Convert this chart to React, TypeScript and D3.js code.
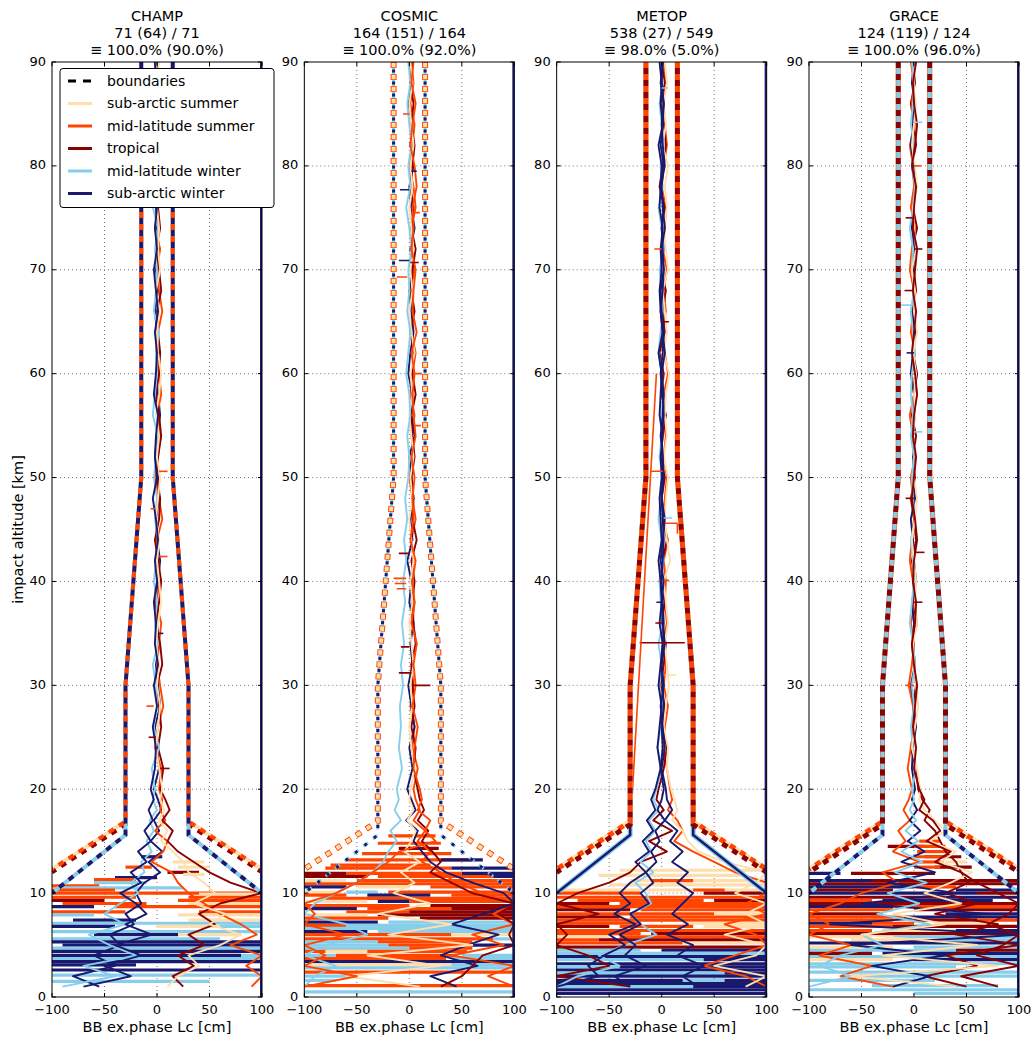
import React from 'react';
import * as d3 from 'd3';

// climate classes and their colours
const classNames = ['sub-arctic summer', 'mid-latitude summer', 'tropical', 'mid-latitude winter', 'sub-arctic winter'];
const classColors = ['#ffdead', '#ff4500', '#8b0000', '#87ceeb', '#191970'];

const missions = ['CHAMP', 'COSMIC', 'METOP', 'GRACE'];
const countLabels = ['71 (64) / 71', '164 (151) / 164', '538 (27) / 549', '124 (119) / 124'];
const shareLabels = ['≡ 100.0% (90.0%)', '≡ 100.0% (92.0%)', '≡ 98.0% (5.0%)', '≡ 100.0% (96.0%)'];

const xTicks = [-100, -50, 0, 50, 100];
const yTicks = [0, 10, 20, 30, 40, 50, 60, 70, 80, 90];

// altitude levels [km] at which the profiles below are sampled
const profileAlts = [
  90, 88, 86, 84, 82, 80, 78, 76, 74, 72, 70, 68, 66, 64, 62, 60, 58, 56,
  54, 52, 50, 48, 46, 44, 42, 40, 38, 36, 34, 32, 30, 28, 26, 24, 22, 20,
  19, 18, 17, 16, 15, 14, 13, 12, 11, 10, 9, 8, 7, 6, 5, 4, 3, 2, 1,
];

// boundaries, right half [Lc cm, altitude km]; left half is mirrored
const summerBoundary = [[15, 90], [15, 50], [30, 30], [30, 16.9], [100, 12.3]];
const tropicalBoundary = [[15, 90], [15, 50], [30, 30], [30, 16.6], [100, 12.0]];
const winterBoundary = [[15, 90], [15, 50], [30, 30], [30, 15.6], [100, 10.0]];
const boundaryOf = [summerBoundary, summerBoundary, tropicalBoundary, winterBoundary, winterBoundary];

// profiles: [class, Lc values at profileAlts]
const champProfiles: [number, number[]][] = [
  [4, [1, -1, 2, 0, -2, 1, 3, -1, 0, 2, -1, 1, -2, 0, 2, -1, 1, 3, 0, -2, 1, 2, -1, 0, 3, 1, -2, 0, 2, -1, 1, 3, -2, 0, 2, -3,
    1, 4, -3, 2, -6, 5, -8, 3, -12, -20, -15, -30, -22, -45, -35, -60, -40, -80, -55]],
  [1, [-2, 1, 3, 0, 2, -1, 4, 1, -2, 3, 0, 2, 5, 1, -1, 2, 4, 0, 3, 1, -2, 2, 5, 0, 1, 3, -1, 4, 2, 0, 3, 6, 1, -2, 4, 2,
    5, 3, 8, -2, 10, 6, -5, 14, 20, 30, 45, 60, 80, 95, 70, 100, 85, 100, 90]],
  [2, [0, 2, -1, 1, 3, 2, 0, 1, 3, -1, 2, 4, 0, 1, 3, 2, -1, 2, 4, 1, 0, 3, 2, -2, 1, 4, 2, -1, 3, 5, 0, 2, 4, 1, 6, 3,
    8, 12, 5, 15, 10, 20, 35, 50, 70, 100, 60, 40, 55, 30, 45, 20, 35, 15, 25]],
  [3, [-1, 0, -3, 1, -1, -2, 0, -4, 1, -2, 0, -1, -3, 2, -1, 0, -2, -4, 1, -1, -3, 0, -2, 1, -1, -3, 0, -2, 1, -4, -1, 0, -3, 2, -5, -2,
    -4, 0, -7, -3, -10, -5, -15, -12, -25, -18, -35, -50, -30, -65, -45, -20, -70, -40, -90]],
  [0, [2, 0, 1, 3, -1, 2, 1, 0, 2, 1, 3, -1, 2, 0, 1, 4, 2, -1, 2, 0, 3, 1, -1, 2, 0, 2, 4, 1, -1, 2, 0, 3, 1, -1, 2, 5,
    3, 7, 2, 10, 4, 15, 25, 30, 45, 55, 35, 65, 50, 80, 60, 30, 40, 20, 10]],
  [4, [-2, -1, 0, -3, 1, -2, -1, 0, -2, 0, -3, -1, 1, -2, 0, -1, -3, 1, -1, -2, 0, -4, -1, 1, -2, 0, -3, -1, -2, 1, -3, 0, -4, -1, -2, -6,
    -3, -8, -4, -12, -6, -18, -10, -25, -15, -35, -20, -10, -30, -5, -40, -15, -50, -25, -70]],
];

const cosmicProfiles: [number, number[]][] = [
  [1, [2, 4, 1, 5, 3, 0, 4, 6, 2, 3, 5, 1, 4, 2, 6, 3, 1, 5, 2, 4, 0, 3, 6, 2, 4, 1, 5, 3, 7, 2, 4, 1, 5, 3, 8, 4,
    6, 10, 4, 15, 8, 20, 12, 30, 45, 70, 100, 80, 100, 60, 90, 40, 100, 75, 100]],
  [4, [0, 2, -1, 3, 1, 4, 0, 2, 5, 1, 3, 0, 2, 4, 1, -1, 3, 2, 5, 0, 2, 4, 1, 3, -2, 2, 0, 4, 1, 3, -1, 2, 5, 0, 3, -2,
    2, 6, -3, 8, 4, 12, 20, 35, 60, 90, 100, 70, 40, 85, 55, 30, 65, 20, 45]],
  [2, [3, 1, 4, 2, 5, 3, 1, 4, 2, 6, 3, 2, 5, 1, 4, 3, 6, 2, 3, 5, 2, 4, 3, 7, 2, 5, 3, 4, 6, 2, 3, 5, 2, 6, 4, 8,
    10, 14, 8, 18, 12, 22, 30, 20, 40, 60, 100, 85, 100, 95, 100, 70, 60, 50, 30]],
  [0, [1, 3, 0, 2, 4, 1, 3, 0, 2, 4, 1, 3, 0, 2, 5, 1, 3, 0, 2, 4, 1, 3, 0, 2, 4, 1, 3, 0, 2, 4, 1, 3, 0, 2, 5, 1,
    0, 4, -2, 6, 2, -5, 10, -8, 5, -15, 20, -30, 40, -20, 60, -40, 30, -60, 10]],
  [3, [-1, 1, -2, 0, 2, -1, 1, -3, 0, 2, -1, 0, -2, 1, -1, -3, 0, 1, -2, 0, -1, -4, -2, -5, -3, -6, -4, -7, -5, -8, -6, -9, -8, -10, -7, -12,
    -10, -14, -8, -18, -12, -20, -25, -35, -50, -70, -90, -100, -60, -40, -80, -100, -70, -90, -100]],
  [1, [4, 2, 6, 3, 1, 5, 7, 3, 4, 2, 6, 4, 3, 7, 2, 5, 3, 4, 6, 2, 5, 3, 4, 1, 6, 3, 5, 2, 7, 4, 6, 3, 8, 5, 4, 10,
    12, 8, 20, 15, 25, -10, -20, -35, -50, -70, -100, -90, -100, -60, -100, -80, -100, -50, -100]],
];

const metopProfiles: [number, number[]][] = [
  [1, [2, 4, 1, 3, 5, 2, 0, 4, 3, 1, 5, 2, 4, 0, 3, 6, 2, 1, 4, 2, 5, 3, 1, 6, 2, 4, 3, 5, 1, 4, 2, 6, 3, 1, 5, 8,
    10, 6, 15, 20, 12, 30, 50, 70, 100, 100, 80, 100, 60, 90, 100, 70, 40, 80, 100]],
  [2, [0, 3, -1, 2, 4, 1, -2, 3, 0, 2, -1, 4, 1, 3, -2, 2, 0, 4, 1, -1, 3, 0, 2, 5, 1, -2, 3, 0, 4, 2, -1, 3, 1, 5, 2, -3,
    -5, 2, -8, 10, -12, 5, -20, -30, -50, -80, -100, -60, -100, -90, -100, -70, -50, -100, -30]],
  [0, [3, 5, 2, 4, 1, 6, 3, 5, 2, 4, 6, 1, 3, 5, 2, 7, 4, 3, 5, 2, 6, 4, 3, 5, 8, 2, 4, 6, 3, 5, 7, 4, 2, 6, 5, 9,
    12, 15, 10, 20, 25, 35, 60, 100, 90, 70, 100, 80, 100, 60, 100, 90, 50, 100, 80]],
  [3, [-1, 1, -2, 0, 2, -1, 1, -3, 0, 2, -2, 0, 1, -1, -3, 0, 2, -1, 0, -2, 1, -1, -3, 0, 2, -2, -1, 1, -3, 0, -2, 1, -1, -4, 0, -5,
    -8, -3, -12, -6, -15, -10, -20, -8, -25, -15, -10, -30, -20, -5, -35, -60, -40, -80, -100]],
  [4, [1, -1, 2, 0, 1, 3, -1, 2, 0, 1, 2, -1, 0, 2, 1, -1, 1, 2, 0, 1, 1, 0, 1, 2, 1, 0, 1, 2, 1, 0, 1, 2, 0, 1, -1, 2,
    0, -4, 3, -6, -2, -10, -5, -15, -8, -20, -12, -30, -20, -40, -25, -35, -15, -45, -30]],
  [4, [-2, 0, -1, 1, -3, 0, -1, -2, 1, -1, 0, -2, -1, 1, -3, 0, -1, -2, 1, -1, 0, -2, -1, 0, -3, -1, 0, -2, 1, -1, -3, 0, -2, -4, -1, -6,
    -10, -6, -14, -8, -18, -12, -25, -15, -30, -40, -30, -45, -25, -50, -35, -55, -70, -60, -100]],
  [4, [1, 0, 2, 1, -1, 2, 0, 1, 3, 0, 2, 1, -1, 1, 3, 0, 2, 1, -1, 1, 2, 0, 3, 1, -1, 2, 0, 1, 3, 0, 2, -1, 1, 3, 0, 4,
    5, 10, 3, 15, 8, 20, 10, 25, 15, 30, 20, 10, 25, 5, 30, 15, 40, 20, 35]],
];

const graceProfiles: [number, number[]][] = [
  [2, [-1, 1, -3, 0, 2, -2, 1, -1, 3, -2, 0, 2, -3, 1, -1, 3, 0, -2, 2, -1, 1, -3, 0, 2, -2, 1, -1, 3, -2, 0, 2, -1, 1, -3, 2, 4,
    8, 15, 10, 20, 25, 30, 40, 45, 52, 30, 60, 20, 80, 40, 100, 30, 60, 10, 50]],
  [1, [-3, 0, -2, 1, -4, -1, 0, -3, 1, -2, -4, 0, -1, -3, 1, -2, 0, -4, -1, 1, -3, -1, 0, -2, -4, -1, 1, -3, 0, -2, -5, -1, 0, -3, -6, -2,
    -5, -10, -4, -15, -8, -20, 5, -30, -15, -50, -70, -100, -80, -100, -60, -90, -40, -70, -20]],
  [4, [0, -2, 1, -1, -3, 0, 2, -1, -2, 1, -1, 0, -2, 2, -1, -3, 0, 1, -2, 0, -1, 1, -3, -1, 0, 2, -2, 0, -1, 1, -3, 0, 2, -1, -2, 1,
    -2, 3, -4, 6, -6, 10, -12, 20, -25, 40, -50, 70, -80, 100, -60, 30, -40, 15, -20]],
  [3, [-2, 0, -1, -3, 0, -2, 1, -1, -4, -1, -2, 0, -3, -1, 1, -2, -3, -1, -3, 0, -2, -1, 1, -3, -1, 0, -2, -4, -1, 1, -2, 0, -3, -1, 2, -2,
    0, -4, 2, -8, 4, -12, 8, -18, 12, -25, 5, -35, 15, -50, -30, -70, -90, -60, -100]],
  [0, [1, -1, 2, 0, -2, 1, 3, -1, 0, 2, -2, 1, 0, 3, -1, 2, 0, 1, -1, 2, 0, 3, 1, -2, 0, 2, 1, 3, -1, 0, 2, 4, 1, -2, 3, 6,
    5, 10, 20, 30, 15, 40, 25, 55, 35, 10, 45, -20, 30, -50, 60, -30, 80, -60, 40]],
  [2, [2, -1, 0, 3, 1, -2, 2, 0, -1, 3, 1, -1, 2, 0, -2, 1, 3, 0, -1, 2, 0, -2, 1, 3, 0, -1, 2, 1, -2, 0, 3, 1, -1, 2, 0, 5,
    10, 5, 18, 25, 12, 35, 20, 45, 60, 80, 100, 90, 70, 100, 85, 60, 100, 45, 80]],
];

// short excursions: [class, Lc0, alt0, Lc1, alt1]
const champSegments = [
  [1, 2, 50.6, 10, 50.6], [1, 2, 42.4, 10, 42.4], [1, -2, 47, -6, 47], [3, -2, 60, -6, 60],
  [4, 1, 35, 6, 35], [2, -1, 25, -8, 25], [2, 3, 22, 12, 22], [1, -3, 28, -10, 28],
];
const cosmicSegments = [
  [4, -9, 77.7, 0, 77.7], [1, 2, 75.5, 10, 75.5], [4, 2, 79.5, 7, 79.5], [2, 1, 70.7, 9, 70.7],
  [1, -12, 69.3, -2, 69.3], [4, -10, 70.9, 0, 70.9], [1, -15, 40.3, -3, 40.3], [1, -14, 39.8, -3, 39.8],
  [1, -12, 39.3, -3, 39.3], [2, 3, 30, 20, 30], [2, -10, 42.7, 0, 42.7], [2, -8, 33.7, 0, 33.7],
  [2, -10, 31.2, 2, 31.2], [1, 4, 60, 12, 60], [1, -6, 85, 0, 85], [1, 5, 55, 11, 55],
];
const metopSegments = [
  [1, -10, 50.6, 1, 50.6], [3, 2, 46.1, 10, 46.1], [1, 3, 45.6, 15, 45.6], [1, 15, 45.6, 15, 44.6],
  [2, -21, 34.1, 22, 34.1], [0, 3, 31, 14, 31], [1, 2, 40.1, 7, 40.1], [1, -5, 60, -28, 19.5],
  [2, -6, 36, 0, 36], [4, -5, 38, 0, 38], [2, 0, 65, 7, 65], [1, -7, 72, 0, 72], [3, 0, 87.5, 6, 87.5],
];
const graceSegments = [
  [3, -14, 66.6, -1, 66.6], [3, 0, 84.2, 8, 84.2], [2, -8, 75, 0, 75], [2, 0, 72, 8, 72],
  [2, -9, 68, 0, 68], [1, 0, 80, 7, 80], [4, -7, 62, 0, 62], [3, 0, 54.4, 8, 54.4],
  [2, 0, 42.8, 10, 42.8], [2, -8, 48, 0, 48], [2, 0, 38, 8, 38], [1, -8, 30, 0, 30],
];

// lower-troposphere streaks: [class, altitude, Lc from, Lc to]
const champBands = [
  [0, 13.0, 15, 45], [0, 12.5, 20, 50], [2, 12.0, 10, 40], [0, 11.8, 25, 45], [4, 13.5, -15, 5],
  [1, 12.5, -30, -5], [4, 11.5, -40, 0], [1, 11.3, -60, -20], [3, 11.0, -60, -10],
  [1, 10.7, -100, -55], [3, 10.5, -90, 25], [1, 10.3, -100, -40], [1, 10.0, -100, 100], [0, 9.9, 40, 100],
  [1, 9.6, -100, -20], [1, 9.6, 30, 100], [2, 9.3, -100, -50], [1, 9.3, 20, 100], [1, 9.0, -90, -10],
  [0, 9.0, 30, 100], [4, 8.7, -100, -60], [1, 8.7, -40, 100], [1, 8.2, -100, -30], [1, 8.2, 40, 100],
  [0, 7.9, 20, 100], [3, 7.9, -100, -60], [4, 7.4, -80, -20], [0, 7.4, 30, 100], [3, 7.1, -100, 100],
  [4, 6.8, -100, -40], [0, 6.8, 0, 60], [3, 6.8, 60, 100], [3, 6.3, -100, 100], [4, 6.0, -60, 20],
  [0, 6.0, 20, 80], [3, 5.6, -100, 60], [4, 5.3, -100, 100], [4, 5.0, -90, 100], [3, 4.7, -100, 100],
  [4, 4.4, -100, 100], [4, 4.0, -100, 80], [3, 4.0, 80, 100], [3, 3.7, -100, 100], [4, 3.4, -100, 100],
  [4, 3.1, -100, -20], [4, 2.6, -100, 100], [3, 2.1, -100, 100], [3, 1.5, -100, 50],
];
const cosmicBands = [
  [1, 15.5, -20, 25], [1, 14.8, -30, 30], [2, 14.3, -10, 28], [1, 13.8, -45, 40], [1, 13.2, -60, 60],
  [4, 13.2, 30, 70], [1, 12.7, -75, 20], [4, 12.4, 40, 100], [1, 12.4, -80, 40], [4, 11.9, 50, 100],
  [1, 11.9, -60, 50], [2, 11.9, -100, -60], [2, 11.6, -100, -40], [1, 11.6, -30, 80], [4, 11.6, 80, 100],
  [0, 11.2, -100, -60], [1, 11.2, -50, 100], [1, 10.9, -100, 100], [4, 10.6, -100, -60], [0, 10.6, -50, 0],
  [1, 10.6, 20, 100], [0, 10.1, -100, -70], [3, 10.1, -60, -30], [1, 10.1, -20, 100], [1, 9.8, -100, -60],
  [4, 9.8, -40, 20], [1, 9.8, 40, 100], [1, 9.5, -80, 100], [0, 9.2, -100, -40], [4, 9.2, -30, 0],
  [1, 9.2, 0, 100], [1, 8.8, -100, 0], [2, 8.8, 20, 100], [4, 8.5, -100, -50], [1, 8.5, -40, 40],
  [2, 8.5, 40, 100], [1, 8.2, -60, 0], [2, 8.2, 0, 100], [0, 7.9, -100, -40], [2, 7.9, -30, 100],
  [1, 7.6, -100, -20], [2, 7.6, 10, 100], [4, 7.2, -100, -30], [3, 7.2, -20, 100], [1, 6.9, -100, -60],
  [3, 6.9, -60, 100], [3, 6.6, -100, 100], [4, 6.3, -100, -40], [3, 6.3, -30, 100], [1, 6.0, -100, 40],
  [0, 6.0, 40, 100], [1, 5.6, -100, 80], [3, 5.6, 80, 100], [3, 5.3, -100, -30], [1, 5.3, -30, 60],
  [3, 5.0, -100, -20], [1, 5.0, -20, 60], [4, 5.0, 60, 100], [3, 4.7, -100, 0], [1, 4.7, 0, 60],
  [1, 4.4, -100, 55], [0, 4.4, -80, -40], [3, 4.0, -100, -70], [1, 4.0, -70, 45], [3, 4.0, 50, 100],
  [1, 3.7, -100, 35], [3, 3.7, 40, 100], [4, 3.4, -100, 100], [0, 3.1, -100, 40], [3, 3.1, 40, 100],
  [3, 2.8, -100, 100], [1, 2.4, -100, 100], [3, 2.0, -100, -55], [3, 1.6, -100, -70], [1, 1.1, -100, 100],
  [3, 0.5, -100, 100],
];
const metopBands = [
  [0, 12.2, -40, 100], [0, 11.7, -60, 80], [0, 11.2, -30, 100], [1, 11.2, -10, 30], [0, 10.8, -50, 100],
  [0, 10.3, -100, 100], [1, 10.3, 30, 60], [1, 10.0, -100, -20], [2, 10.0, 40, 100], [1, 9.6, -100, 100],
  [1, 9.3, -80, 40], [2, 9.3, 50, 100], [2, 9.0, -100, -50], [1, 9.0, -40, 100], [1, 8.7, -100, 100],
  [2, 8.4, -100, -30], [1, 8.4, -20, 100], [1, 8.0, -100, 50], [0, 8.0, 50, 100], [2, 7.7, -100, -40],
  [1, 7.7, -30, 100], [1, 7.4, -100, 100], [1, 7.1, -100, -20], [0, 7.1, 20, 100], [2, 6.8, -100, -50],
  [1, 6.8, -40, 30], [0, 6.8, 40, 100], [1, 6.4, -100, 100], [1, 6.1, -100, -20], [2, 6.1, -10, 100],
  [0, 5.8, -100, -50], [1, 5.8, -40, 100], [1, 5.5, -100, -60], [2, 5.5, -60, 100], [1, 5.2, -100, 20],
  [0, 5.2, 20, 100], [2, 4.8, -100, 100], [3, 4.5, -100, -20], [4, 4.5, 0, 100], [3, 4.2, -100, 100],
  [4, 3.9, -100, 100], [3, 3.6, -100, 40], [4, 3.6, 40, 100], [4, 3.2, -100, 100], [3, 2.9, -100, -40],
  [4, 2.9, -40, 100], [4, 2.6, -100, 100], [3, 2.3, -100, 60], [4, 2.3, 60, 100], [4, 2.0, -100, 100],
  [4, 1.6, -100, 100], [3, 1.6, 20, 60], [4, 1.3, -100, 100], [3, 1.0, -100, 30], [4, 1.0, 30, 100],
  [4, 0.7, -100, 100], [4, 0.35, -100, 100],
];
const graceBands = [
  [1, 15.0, 5, 25], [2, 14.5, -25, 10], [1, 14.5, 0, 30], [1, 14.0, 3, 33], [2, 13.5, 10, 45],
  [1, 13.5, 0, 30], [1, 13.0, 5, 28], [0, 13.0, 30, 50], [2, 12.5, 20, 55], [1, 12.5, 0, 25],
  [2, 11.9, -60, 20], [4, 11.9, -100, -70], [4, 11.2, -100, -40], [2, 11.2, -40, 100], [2, 10.9, -100, 100],
  [4, 10.6, -100, 0], [1, 10.6, 0, 40], [2, 10.3, -100, -20], [4, 10.3, 40, 100], [4, 10.0, -100, 60],
  [2, 10.0, 60, 100], [2, 9.6, -100, 30], [4, 9.6, 30, 100], [1, 9.3, -100, -40], [4, 9.3, -30, 75],
  [2, 9.0, -100, 100], [4, 8.7, -100, -20], [1, 8.7, -20, 100], [1, 8.4, -100, -20], [2, 8.4, 0, 100],
  [2, 8.0, -100, -30], [4, 8.0, 30, 100], [1, 7.7, -100, -10], [4, 7.7, -10, 100], [1, 7.4, -100, -20],
  [2, 7.4, 0, 60], [1, 7.4, 60, 100], [4, 7.1, -100, -40], [1, 7.1, -40, 0], [0, 7.1, 20, 80],
  [1, 6.8, -100, -20], [2, 6.8, -20, 100], [1, 6.4, -100, -40], [0, 6.4, -30, 40], [4, 6.4, 40, 100],
  [2, 6.1, -100, 100], [0, 5.8, -100, -40], [3, 5.8, -20, 100], [0, 5.5, -60, 30], [3, 5.5, 30, 100],
  [4, 5.2, -100, 100], [0, 4.8, -100, -20], [3, 4.8, 0, 100], [3, 4.5, -100, 40], [2, 4.5, 40, 100],
  [2, 4.2, -100, -40], [4, 4.2, -30, 100], [3, 3.9, -100, 100], [0, 3.6, -100, -20], [4, 3.6, 0, 100],
  [3, 3.2, -100, 100], [3, 2.9, -100, 40], [3, 2.4, -100, 100], [3, 2.0, -60, 100], [3, 1.6, -100, 20],
  [3, 1.1, -40, 80], [3, 0.7, -100, 100], [3, 0.35, 0, 100],
];

// an off-scale sub-arctic winter profile pinned at the right edge
const clippedClass = 4;
const clippedLc = 100;
const clippedAlts = [0, 90];

const panelProfiles = [champProfiles, cosmicProfiles, metopProfiles, graceProfiles];
const panelSegments = [champSegments, cosmicSegments, metopSegments, graceSegments];
const panelBands = [champBands, cosmicBands, metopBands, graceBands];

// boundary drawing order per panel: [class, width, dasharray, dashoffset]
const boundaryStyles: [number, number, string, number][][] = [
  [[0, 4, '6,6', 0], [2, 4, '6,6', 6], [3, 4, '6,6', 6], [1, 4, '6,6', 6], [4, 4, '6,6', 0]],
  [[3, 3, '6,6', 6], [1, 6, '6,6', 0], [0, 4, '4.5,7.5', 11.25], [4, 3, '3,9', 4.5]],
  [[3, 5, 'none', 0], [4, 2.5, 'none', 0], [0, 5, 'none', 0], [1, 5, '6,6', 0], [2, 5, '6,6', 6]],
  [[0, 5, '6,6', 0], [1, 5, '6,6', 6], [4, 4, '6,6', 0], [3, 4, '6,6', 6], [2, 5, '6,6', 0]],
];

const W = 1033;
const H = 1041;
const LEFT0 = 52;
const STEP = 252.33;
const PW = 210;
const TOP = 62;
const PH = 935;
const FONT = 'DejaVu Sans';

function Panel({ i }: { i: number }) {
  const x = d3.scaleLinear().domain([-100, 100]).range([0, PW]);
  const y = d3.scaleLinear().domain([0, 90]).range([PH, 0]);
  const line = d3.line<number[]>().x(d => x(d[0])).y(d => y(d[1]));
  const clipId = `clip-${i}`;
  const left = LEFT0 + STEP * i;

  return (
    <g transform={`translate(${left},${TOP})`}>
      <defs>
        <clipPath id={clipId}>
          <rect x={0} y={0} width={PW} height={PH} />
        </clipPath>
      </defs>

      {/* grid */}
      {xTicks.slice(1, -1).map(t => (
        <line key={'gx' + t} x1={x(t)} x2={x(t)} y1={0} y2={PH} stroke="#777" strokeWidth={1} strokeDasharray="1,3" />
      ))}
      {yTicks.slice(1, -1).map(t => (
        <line key={'gy' + t} x1={0} x2={PW} y1={y(t)} y2={y(t)} stroke="#777" strokeWidth={1} strokeDasharray="1,3" />
      ))}

      <g clipPath={`url(#${clipId})`}>
        {panelBands[i].map((b, k) => (
          <line key={'b' + k} x1={x(b[2])} x2={x(b[3])} y1={y(b[1])} y2={y(b[1])}
            stroke={classColors[b[0]]} strokeWidth={3.2} />
        ))}
        {panelProfiles[i].map(([cls, xs], k) => {
          const pts = profileAlts.map((a, j) => [xs[j], a]).filter(p => p[0] !== undefined);
          return <path key={'p' + k} d={line(pts) || ''} fill="none" stroke={classColors[cls]}
            strokeWidth={1.9} strokeLinejoin="round" />;
        })}
        {panelSegments[i].map((s, k) => (
          <line key={'s' + k} x1={x(s[1])} y1={y(s[2])} x2={x(s[3])} y2={y(s[4])}
            stroke={classColors[s[0]]} strokeWidth={1.6} />
        ))}
        {boundaryStyles[i].map(([cls, w, dash, off], k) => {
          const right = boundaryOf[cls];
          const leftSide = right.map(([bx, a]) => [-bx, a]);
          return (
            <g key={'bd' + k} fill="none" stroke={classColors[cls]} strokeWidth={w}
              strokeDasharray={dash} strokeDashoffset={off}>
              <path d={line(right) || ''} />
              <path d={line(leftSide) || ''} />
            </g>
          );
        })}
        <line x1={x(clippedLc)} x2={x(clippedLc)} y1={y(clippedAlts[0])} y2={y(clippedAlts[1])}
          stroke={classColors[clippedClass]} strokeWidth={4} />
      </g>

      {/* frame and ticks */}
      <rect x={0} y={0} width={PW} height={PH} fill="none" stroke="#000" strokeWidth={1} />
      {xTicks.map(t => (
        <g key={'tx' + t}>
          <line x1={x(t)} x2={x(t)} y1={PH} y2={PH - 4} stroke="#000" />
          <line x1={x(t)} x2={x(t)} y1={0} y2={4} stroke="#000" />
          <text x={x(t)} y={PH + 17} textAnchor="middle" fontFamily={FONT} fontSize={13}>
            {t < 0 ? '\u2212' + Math.abs(t) : String(t)}
          </text>
        </g>
      ))}
      {yTicks.map(t => (
        <g key={'ty' + t}>
          <line x1={0} x2={4} y1={y(t)} y2={y(t)} stroke="#000" />
          <line x1={PW} x2={PW - 4} y1={y(t)} y2={y(t)} stroke="#000" />
          <text x={-6} y={y(t) - 1} dy="0.35em" textAnchor="end" fontFamily={FONT} fontSize={13}>{t}</text>
        </g>
      ))}

      <text x={PW / 2} y={PH + 35} textAnchor="middle" fontFamily={FONT} fontSize={14.5}>BB ex.phase Lc [cm]</text>
      <text x={PW / 2} y={-41.5} textAnchor="middle" fontFamily={FONT} fontSize={14.5}>{missions[i]}</text>
      <text x={PW / 2} y={-24.5} textAnchor="middle" fontFamily={FONT} fontSize={14.5}>{countLabels[i]}</text>
      <text x={PW / 2} y={-7.5} textAnchor="middle" fontFamily={FONT} fontSize={14.5}>{shareLabels[i]}</text>

      {i === 0 && (
        <text transform={`translate(-29,${PH / 2}) rotate(-90)`} textAnchor="middle" fontFamily={FONT} fontSize={14.5}>
          impact altitude [km]
        </text>
      )}
      {i === 0 && <Legend />}
    </g>
  );
}

function Legend() {
  const rowY = (k: number) => 19 + k * 22.5;
  return (
    <g>
      <rect x={8} y={6.5} width={214} height={139} rx={3} fill="#fff" stroke="#000" strokeWidth={1} />
      <line x1={16} x2={40} y1={rowY(0)} y2={rowY(0)} stroke="#000" strokeWidth={3} strokeDasharray="8,7" />
      <text x={55} y={rowY(0)} dy="0.35em" fontFamily={FONT} fontSize={14}>boundaries</text>
      {classNames.map((name, k) => (
        <g key={name}>
          <line x1={16} x2={40} y1={rowY(k + 1)} y2={rowY(k + 1)} stroke={classColors[k]} strokeWidth={3} />
          <text x={55} y={rowY(k + 1)} dy="0.35em" fontFamily={FONT} fontSize={14}>{name}</text>
        </g>
      ))}
    </g>
  );
}

export default function App() {
  return (
    <svg width={W} height={H} style={{ position: 'absolute', left: 0, top: 0, background: '#fff' }}>
      {missions.map((m, i) => <Panel key={m} i={i} />)}
    </svg>
  );
}
